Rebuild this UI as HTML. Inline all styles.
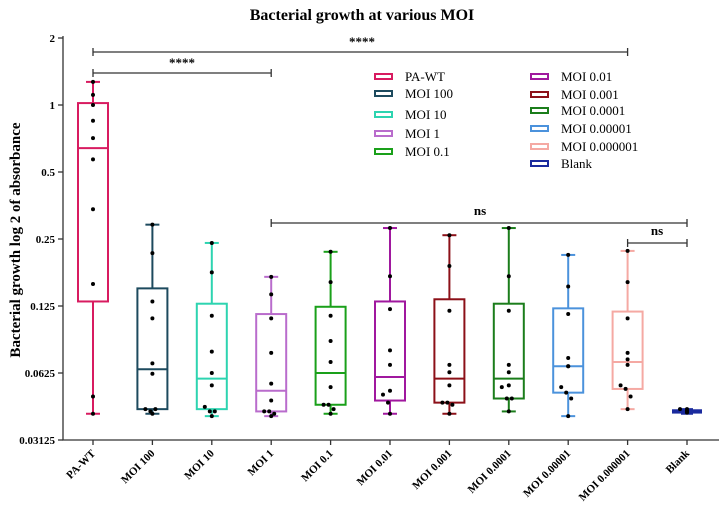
<!DOCTYPE html>
<html><head><meta charset="utf-8"><style>
body{margin:0;background:#fff}
svg{display:block;font-family:"Liberation Serif",serif}
</style></head><body>
<svg id="chart" width="724" height="510" viewBox="0 0 724 510"></svg>
<script>
const categories=["PA-WT","MOI 100","MOI 10","MOI 1","MOI 0.1","MOI 0.01","MOI 0.001","MOI 0.0001","MOI 0.00001","MOI 0.000001","Blank"];
const colors=["#d81b60","#1d4a5e","#2dd4b0","#b96ccc","#1aa01a","#a0189e","#8c1018","#1b7d1b","#4b92dc","#f5a9a3","#1a2a9e"];
const boxMin=[0.041,0.041,0.040,0.040,0.041,0.041,0.041,0.042,0.040,0.043,0.041];
const boxQ1=[0.131,0.043,0.043,0.042,0.045,0.047,0.046,0.048,0.051,0.053,0.0415];
const boxMedian=[0.64,0.065,0.059,0.052,0.0625,0.060,0.059,0.059,0.067,0.070,0.042];
const boxQ3=[1.02,0.150,0.128,0.115,0.124,0.131,0.134,0.128,0.122,0.118,0.0425];
const boxMax=[1.27,0.29,0.24,0.169,0.219,0.28,0.26,0.28,0.212,0.221,0.043];
const points=[
[1.27,1.11,1.0,0.85,0.71,0.57,0.34,0.157,0.049,0.041],
[0.29,0.216,0.131,0.11,0.069,0.062,0.043,0.042,0.043,0.041],
[0.24,0.177,0.113,0.078,0.0625,0.055,0.044,0.042,0.042,0.040],
[0.169,0.141,0.11,0.077,0.056,0.047,0.042,0.042,0.041,0.040],
[0.219,0.16,0.113,0.087,0.07,0.054,0.045,0.045,0.043,0.041],
[0.28,0.17,0.121,0.079,0.068,0.052,0.05,0.046,0.041],
[0.26,0.189,0.119,0.068,0.063,0.055,0.046,0.046,0.045,0.041],
[0.28,0.17,0.119,0.068,0.063,0.055,0.054,0.048,0.048,0.042],
[0.212,0.153,0.115,0.073,0.067,0.067,0.054,0.051,0.048,0.040],
[0.221,0.16,0.11,0.077,0.072,0.068,0.055,0.053,0.049,0.043],
[0.043,0.042,0.042,0.042,0.0415,0.042,0.043,0.042]];
const yTicks=[2,1,0.5,0.25,0.125,0.0625,0.03125];
const yTickLabels=["2","1","0.5","0.25","0.125","0.0625","0.03125"];
const svg=document.getElementById('chart');
const NS="http://www.w3.org/2000/svg";
function el(tag,attrs,parent){const e=document.createElementNS(NS,tag);for(const k in attrs)e.setAttribute(k,attrs[k]);(parent||svg).appendChild(e);return e;}
const yScale=v=>373-67*(Math.log2(v)+4);
const xScale=i=>93+i*59.4;
const axisX=63,axisBottom=440;
let t=el('text',{x:362,y:20,'text-anchor':'middle','font-size':16,'font-weight':'bold'});

t.textContent="Bacterial growth at various MOI";
t=el('text',{transform:'translate(20,240) rotate(-90)','text-anchor':'middle','font-size':15,'font-weight':'bold'});

t.textContent="Bacterial growth log 2 of absorbance";
let a=el('path',{d:`M${axisX} 36V${axisBottom}H719`,stroke:'#333','stroke-width':1.3,fill:'none'});

yTicks.forEach((v,i)=>{const y=yScale(v);
 el('line',{x1:axisX-5,x2:axisX,y1:y,y2:y,stroke:'#333','stroke-width':1.3});
 const l=el('text',{x:axisX-8,y:y+4,'text-anchor':'end','font-size':11,'font-weight':'bold'});
 
 l.textContent=yTickLabels[i];});
const jitter=[0,0,0,0,0,0,-7,-2,3,7];
categories.forEach((c,i)=>{const x=xScale(i),col=colors[i];
 el('line',{x1:x,x2:x,y1:axisBottom,y2:axisBottom+5,stroke:'#333','stroke-width':1.3});
 const l=el('text',{transform:`translate(${x+3},${axisBottom+14}) rotate(-45)`,'text-anchor':'end','font-size':11,'font-weight':'bold'});
 
 l.textContent=c;
 const g=el('g',{stroke:col,'stroke-width':2,fill:'none'});
 
 
 const w=(i==10)?6:7,bw=(i==10)?14:15;
 el('line',{x1:x,x2:x,y1:yScale(boxMax[i]),y2:yScale(boxQ3[i])},g);
 el('line',{x1:x,x2:x,y1:yScale(boxQ1[i]),y2:yScale(boxMin[i])},g);
 el('line',{x1:x-w,x2:x+w,y1:yScale(boxMax[i]),y2:yScale(boxMax[i])},g);
 el('line',{x1:x-w,x2:x+w,y1:yScale(boxMin[i]),y2:yScale(boxMin[i])},g);
 el('rect',{x:x-bw,y:yScale(boxQ3[i]),width:2*bw,height:Math.max(1,yScale(boxQ1[i])-yScale(boxQ3[i]))},g);
 el('line',{x1:x-bw,x2:x+bw,y1:yScale(boxMedian[i]),y2:yScale(boxMedian[i])},g);
 const n=points[i].length;
 points[i].forEach((p,j)=>{const off=(i==0||j==n-1)?0:jitter[j]||0;
  const d=el('circle',{cx:x+off,cy:yScale(p),r:2,fill:'#000'});
  });
});
function bracket(x1,x2,y,label,lx,ly,name){const g=el('g',{});
 
 el('path',{d:`M${x1} ${y+4}V${y-4}M${x1} ${y}H${x2}M${x2} ${y-4}V${y+4}`,stroke:'#333','stroke-width':1.3,fill:'none'},g);
 const t=el('text',{x:lx,y:ly,'text-anchor':'middle','font-size':13,'font-weight':'bold'},g);t.textContent=label;}
bracket(xScale(0),xScale(9),52,"****",362,46,'significance-pawt-vs-moi-000001');
bracket(xScale(0),xScale(3),73,"****",182,67,'significance-pawt-vs-moi1');
bracket(xScale(3),xScale(10),223,"ns",480,215,'significance-moi1-vs-blank');
bracket(xScale(9),xScale(10),243,"ns",657,235,'significance-moi000001-vs-blank');
const legX=[375,531],legRows=[[77,94,115,134,152],[77,95,111,129,147,164]];
let k=0;
[0,1].forEach(c=>legRows[c].forEach(y=>{const i=k++;
 const g=el('g',{});
 el('rect',{x:legX[c],y:y-3,width:17,height:5,fill:'none',stroke:colors[i],'stroke-width':2},g);
 const t=el('text',{x:legX[c]+30,y:y+4,'font-size':13},g);t.textContent=categories[i];}));
</script>
</body></html>
